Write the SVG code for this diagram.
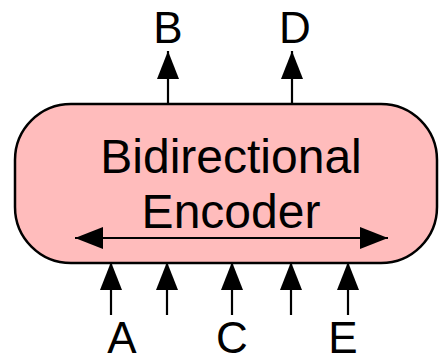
<svg xmlns="http://www.w3.org/2000/svg" width="440" height="358" viewBox="0 0 440 358">
  <defs>
    <marker id="head" viewBox="0 0 28 22" refX="28" refY="11" markerWidth="28" markerHeight="22" markerUnits="userSpaceOnUse" orient="auto-start-reverse">
      <path d="M0,0 L28,11 L0,22 Z" fill="#000"/>
    </marker>
  </defs>
  <style>
    .lbl { font-family: "Liberation Sans", Arial, Helvetica, sans-serif; fill: #000; text-anchor: middle; }
    .io { font-size: 44px; }
    .title { font-size: 48px; }
    .wire { stroke: #000; stroke-width: 2.2; fill: none; marker-end: url(#head); }
  </style>

  <g id="encoder">
    <rect x="15" y="104" width="422" height="159" rx="56" ry="56" fill="#ffbcbc" stroke="#000" stroke-width="2.5"/>
    <text class="lbl title" x="231" y="173">Bidirectional</text>
    <text class="lbl title" x="231" y="228">Encoder</text>
  </g>

  <g id="connectors">
    <!-- bidirectional arrow inside the encoder -->
    <line class="wire" x1="75" y1="238" x2="388" y2="238" style="marker-start: url(#head)"/>
    <!-- outputs -->
    <line class="wire" x1="168" y1="104" x2="168" y2="51"/>
    <line class="wire" x1="292" y1="104" x2="292" y2="51"/>
    <!-- inputs -->
    <line class="wire" x1="111" y1="315" x2="111" y2="262"/>
    <line class="wire" x1="167" y1="315" x2="167" y2="262"/>
    <line class="wire" x1="232" y1="315" x2="232" y2="262"/>
    <line class="wire" x1="291" y1="315" x2="291" y2="262"/>
    <line class="wire" x1="348" y1="315" x2="348" y2="262"/>
  </g>

  <g id="output-B"><text class="lbl io" x="168" y="43">B</text></g>
  <g id="output-D"><text class="lbl io" x="295" y="43">D</text></g>
  <g id="input-A"><text class="lbl io" x="122" y="353">A</text></g>
  <g id="input-C"><text class="lbl io" x="232" y="353">C</text></g>
  <g id="input-E"><text class="lbl io" x="343" y="353">E</text></g>
</svg>
